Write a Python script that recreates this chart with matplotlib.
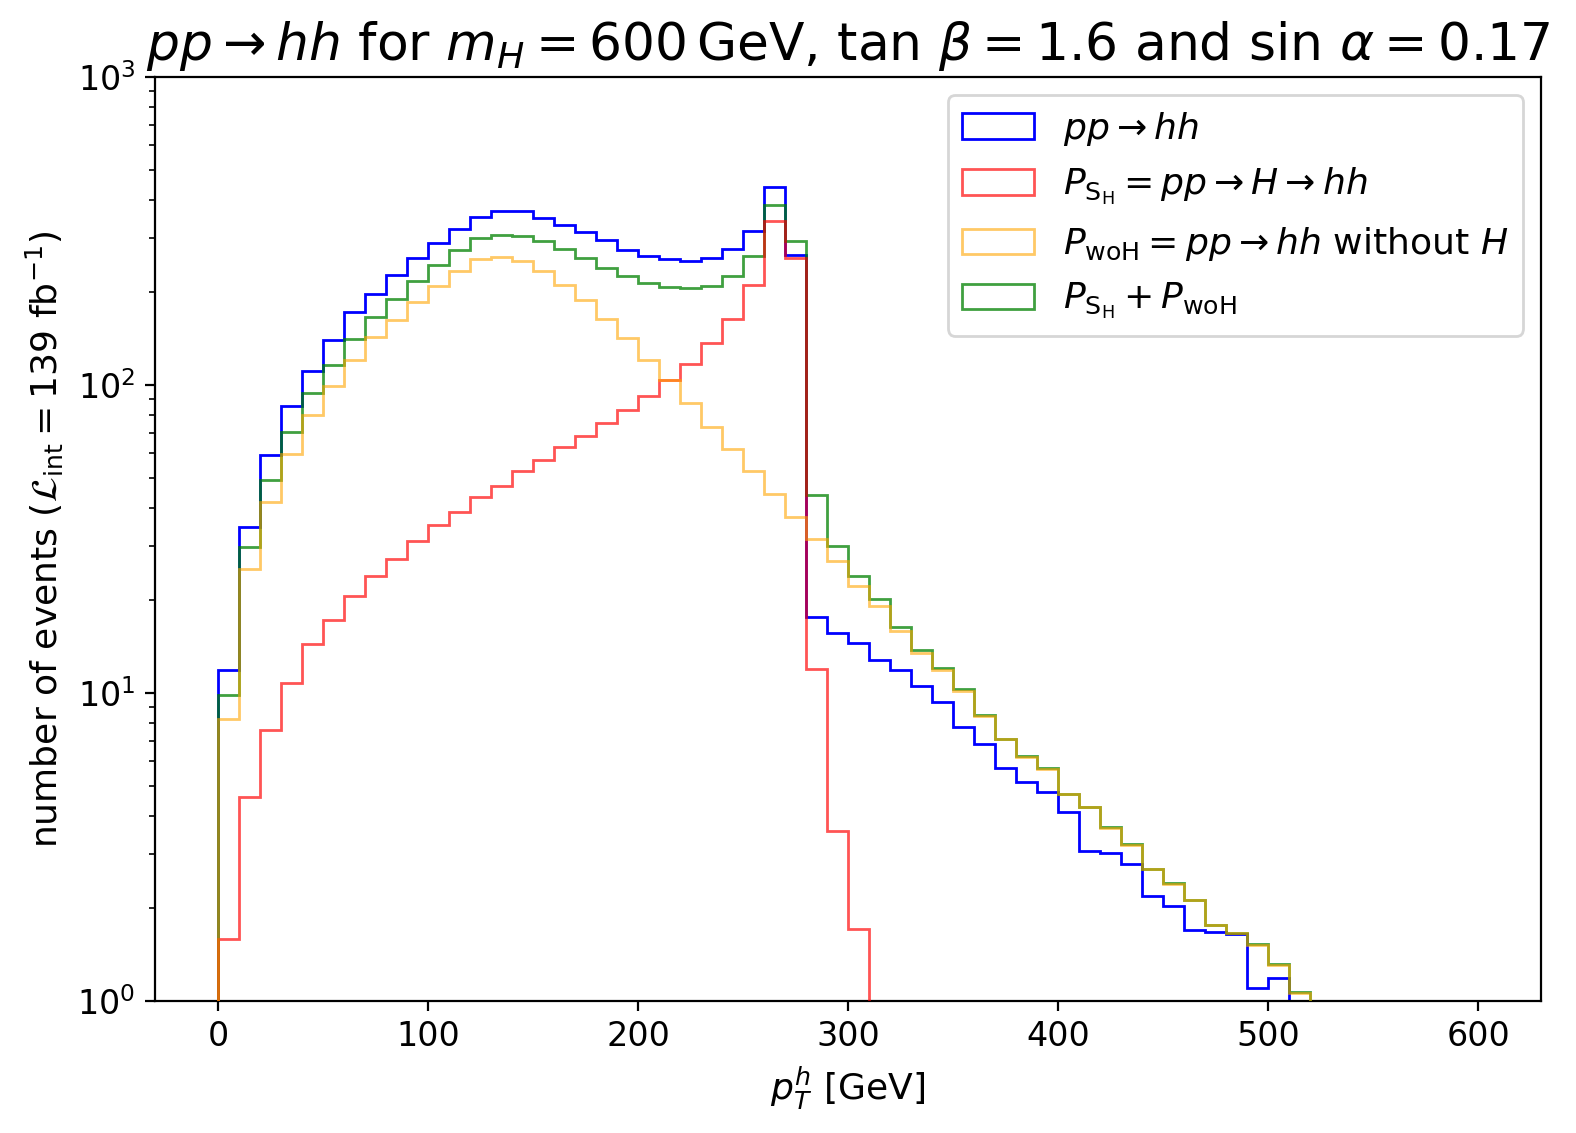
import numpy as np
import matplotlib
matplotlib.use("Agg")
import matplotlib.pyplot as plt

# bin edges in GeV (10 GeV bins, 0..600)
edges = np.arange(0, 610, 10)

# pp -> hh (full)
full = [11.9, 34.6, 59.4, 85.5, 111.4, 140.4, 172.6, 198, 228, 259,
        289, 322, 352, 368, 366, 349, 332, 313, 295, 275,
        263, 256, 252, 258, 276, 316, 441, 265, 17.6, 15.7,
        14.5, 12.8, 11.9, 10.5, 9.33, 7.78, 6.81, 5.69, 5.13, 4.78,
        4.12, 3.06, 3.03, 2.79, 2.19, 2.04, 1.70, 1.67, 1.65, 1.10,
        1.19, 0, 0, 0, 0, 0, 0, 0, 0, 0]

# P_SH = pp -> H -> hh
sig = [1.595, 4.61, 7.61, 10.81, 14.42, 17.22, 20.6, 23.9, 27.2, 31.1,
       35.2, 38.6, 43.4, 46.9, 52.4, 57.3, 62.8, 68.1, 75.5, 83.2,
       92.1, 103.5, 117.3, 136.5, 164.3, 211.8, 340, 258.4, 11.97, 3.56,
       1.71, 0, 0, 0, 0, 0, 0, 0, 0, 0,
       0, 0, 0, 0, 0, 0, 0, 0, 0, 0,
       0, 0, 0, 0, 0, 0, 0, 0, 0, 0]

# P_woH = pp -> hh without H
woh = [8.22, 25.2, 41.6, 59.9, 80.1, 99.6, 121, 143.6, 163, 186.5,
       210, 234.6, 257, 260.5, 253.6, 235, 212, 189, 164.4, 142.6,
       121, 103.5, 87.7, 73.3, 61.8, 52.5, 44.2, 37.2, 31.6, 26.8,
       22.3, 19.2, 15.85, 13.45, 11.85, 10.18, 8.40, 7.07, 6.22, 5.66,
       4.69, 4.25, 3.65, 3.20, 2.68, 2.40, 2.13, 1.76, 1.66, 1.52,
       1.31, 1.065, 0, 0, 0, 0, 0, 0, 0, 0]

# P_SH + P_woH
summ = [9.83, 29.8, 49.1, 70.4, 94.5, 116.5, 141.5, 166.7, 190, 217.7,
        246, 273.6, 301, 307.7, 305.5, 293.5, 275.9, 257.6, 239, 225.3,
        213.8, 208, 206, 209, 226.5, 262.4, 385, 294.2, 43.9, 30.1,
        24.0, 20.2, 16.4, 13.8, 12.05, 10.3, 8.51, 7.11, 6.26, 5.72,
        4.71, 4.26, 3.67, 3.23, 2.68, 2.42, 2.13, 1.77, 1.66, 1.53,
        1.32, 1.07, 0, 0, 0, 0, 0, 0, 0, 0]

labels = [r'$pp \rightarrow hh$',
          r'$P_{\mathrm{S_H}} = pp \rightarrow H \rightarrow hh$',
          r'$P_{\mathrm{woH}} = pp \rightarrow hh$ without $H$',
          r'$P_{\mathrm{S_H}} + P_{\mathrm{woH}}$']

centers = 0.5 * (edges[:-1] + edges[1:])

fig = plt.figure(figsize=(7.88, 5.665), dpi=200)
ax = fig.add_axes([0.0983, 0.1165, 0.8795, 0.8155])

_, _, p_full = ax.hist(centers, bins=edges, weights=full, histtype='step',
                       color='blue', lw=1.0, label=labels[0], zorder=2)
_, _, p_sum = ax.hist(centers, bins=edges, weights=summ, histtype='step',
                      color='green', alpha=0.75, lw=1.0, label=labels[3], zorder=3)
_, _, p_sig = ax.hist(centers, bins=edges, weights=sig, histtype='step',
                      color='red', alpha=0.67, lw=1.0, label=labels[1], zorder=4)
_, _, p_woh = ax.hist(centers, bins=edges, weights=woh, histtype='step',
                      color='orange', alpha=0.6, lw=1.0, label=labels[2], zorder=5)

ax.set_yscale('log')
ax.set_ylim(1, 1000)
ax.set_xlim(-30, 630)
ax.tick_params(labelsize=12)

ax.set_xlabel(r'$p_T^h$ [GeV]', fontsize=13)
ax.set_ylabel(r'number of events ($\mathcal{L}_{\mathrm{int}} = 139$ fb$^{-1}$)', fontsize=13)
ax.set_title(r'$pp \rightarrow hh$ for $m_H = 600\,\mathrm{GeV}$, $\tan\,\beta = 1.6$ and $\sin\,\alpha = 0.17$',
             fontsize=18.7)

ax.legend([p_full[0], p_sig[0], p_woh[0], p_sum[0]], labels,
          loc='upper right', fontsize=13)

fig.savefig('out.png', dpi=200)
